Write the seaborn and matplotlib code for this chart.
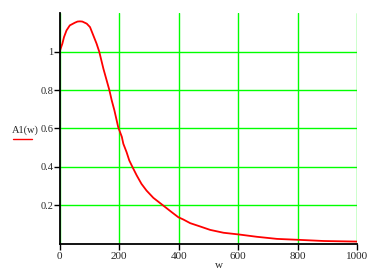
import matplotlib
matplotlib.use("Agg")
import matplotlib.pyplot as plt
import seaborn as sns
import pandas as pd
from matplotlib.lines import Line2D

# Data
w_values = [0, 3, 9, 14.5, 23, 34, 51, 60, 68, 76, 91, 102, 113, 124, 133, 147, 158,
            167, 175, 184, 197, 209, 214, 225, 234, 245, 259, 275, 292, 315, 349,
            377, 399, 416, 439, 472, 506, 551, 603, 663, 731, 805, 888, 1000]
a1_values = [1.0, 1.015, 1.042, 1.076, 1.111, 1.137, 1.151, 1.157, 1.158, 1.157, 1.146,
             1.128, 1.085, 1.042, 1.0, 0.911, 0.850, 0.800, 0.746, 0.694, 0.605,
             0.556, 0.52, 0.476, 0.433, 0.398, 0.355, 0.311, 0.276, 0.238, 0.197,
             0.163, 0.137, 0.125, 0.106, 0.089, 0.071, 0.056, 0.047, 0.035, 0.024,
             0.019, 0.013, 0.010]
x_ticks = [0, 200, 400, 600, 800, 1000]
y_ticks = [0.2, 0.4, 0.6, 0.8, 1.0]
y_tick_labels = ["0.2", "0.4", "0.6", "0.8", "1"]
x_label = "w"
y_label = "A1(w)"

df = pd.DataFrame({"w": w_values, "A1": a1_values})

sns.set_style("white")
plt.rcParams["font.family"] = ["Liberation Serif", "DejaVu Serif"]

W, H = 376, 268
fig = plt.figure(figsize=(W / 100, H / 100), dpi=100)
left, right, top, bottom = 59.7, 357.0, 13.3, 243.5
ax = fig.add_axes([left / W, 1 - bottom / H, (right - left) / W, (bottom - top) / H])

sns.lineplot(data=df, x="w", y="A1", ax=ax, color="#ff0000", linewidth=1.3, zorder=3)

ax.set_xlim(0, 1000)
ax.set_ylim(0, 1.2)
ax.set_xticks(x_ticks)
ax.set_xticklabels([str(t) for t in x_ticks])
ax.set_yticks(y_ticks)
ax.set_yticklabels(y_tick_labels)
ax.grid(True, color="#00ff00", linewidth=1.0)
ax.set_axisbelow(True)
for s in ["top", "right"]:
    ax.spines[s].set_visible(False)
for s in ["left", "bottom"]:
    ax.spines[s].set_color("black")
    ax.spines[s].set_linewidth(1.3)
    ax.spines[s].set_zorder(4)
ax.tick_params(axis="x", direction="out", length=4, width=1,
               color="black", labelsize=8, pad=2, bottom=True)
ax.tick_params(axis="y", direction="out", length=4, width=1,
               color="black", labelsize=7.5, pad=0.5, left=True)
ax.set_xlabel("")
ax.set_ylabel("")

fig.text(219 / W, 1 - 265 / H, x_label, ha="center", va="center", fontsize=8)
fig.text(12 / W, 1 - 130 / H, y_label, ha="left", va="center", fontsize=7.5)
fig.add_artist(Line2D([13 / W, 32 / W], [1 - 139 / H, 1 - 139 / H], color="#ff0000",
                      linewidth=1.0, transform=fig.transFigure))

fig.savefig("out.png", dpi=100)
